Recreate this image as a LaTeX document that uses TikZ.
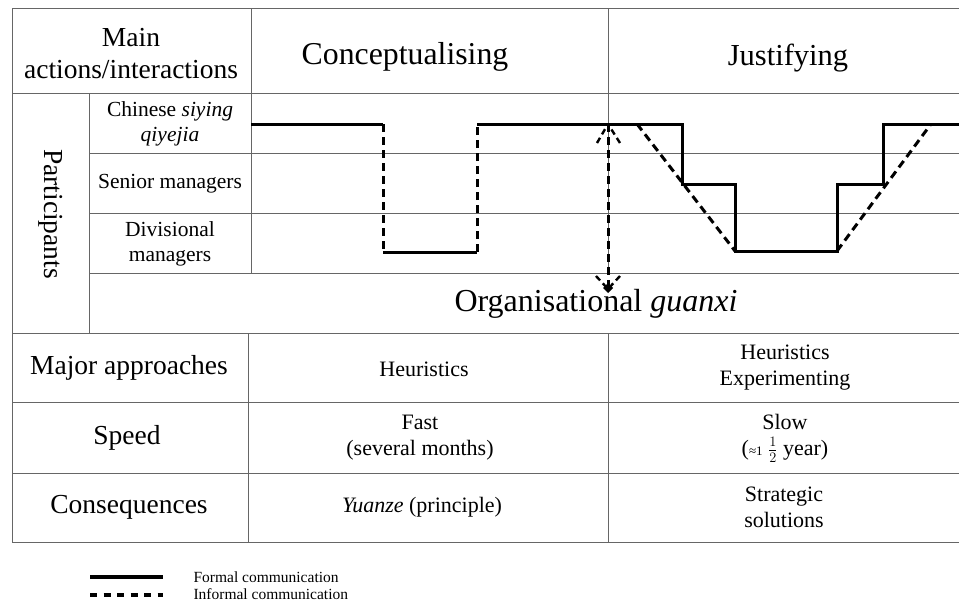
\documentclass[tikz,border=0pt]{standalone}
\usepackage{fontspec}
\setmainfont{Liberation Serif}
\begin{document}
\begin{tikzpicture}[x=1pt,y=-1pt,
  grid/.style={draw=black!60,line width=0.8pt},
  formal/.style={draw=black,line width=3pt,line join=miter},
  informal/.style={draw=black,line width=3pt,dash pattern=on 8pt off 5pt},
  barb/.style={draw=black,line width=2.4pt,dash pattern=on 6pt off 4pt},
  big/.style={font=\fontsize{32}{38}\selectfont},
  lab/.style={font=\fontsize{27.5}{32}\selectfont,align=center},
  small/.style={font=\fontsize{22}{26}\selectfont,align=center},
  legend/.style={font=\fontsize{15.5}{17}\selectfont,anchor=west}]
\useasboundingbox (0,0) rectangle (959,603);

% table grid
\draw[grid] (12,8) -- (959,8);
\draw[grid] (12,93) -- (959,93);
\draw[grid] (89,153) -- (959,153);
\draw[grid] (89,213) -- (959,213);
\draw[grid] (89,273) -- (959,273);
\draw[grid] (12,333) -- (959,333);
\draw[grid] (12,402) -- (959,402);
\draw[grid] (12,473) -- (959,473);
\draw[grid] (12,542) -- (959,542);
\draw[grid] (12,8) -- (12,542);
\draw[grid] (89,93) -- (89,333);
\draw[grid] (251,8) -- (251,273);
\draw[grid] (248,333) -- (248,542);
\draw[grid] (608,8) -- (608,273);
\draw[grid] (608,333) -- (608,542);

% header row
\node[lab] (hmain) at (131,54) {Main\\actions/interactions};
\node[big,font=\fontsize{31.8}{38}\selectfont] (hcon) at (405,57) {Conceptualising};
\node[big,font=\fontsize{30.5}{36}\selectfont] (hjus) at (788,58) {Justifying};

% participants
\node[lab,rotate=-90] (part) at (51,214) {Participants};
\node[small,font=\fontsize{21.5}{25}\selectfont] (pceo) at (170,124) {Chinese \textit{siying}\\\textit{qiyejia}};
\node[small,font=\fontsize{21.5}{25}\selectfont] (psen) at (170,184) {Senior managers};
\node[small,font=\fontsize{21.5}{25}\selectfont] (pdiv) at (170,244) {Divisional\\managers};
\node[big] (guanxi) at (596,304) {Organisational \textit{guanxi}};

% lower rows
\node[lab] (rapp) at (129,368) {Major approaches};
\node[lab] (rspd) at (127,438) {Speed};
\node[lab] (rcon) at (129,507) {Consequences};
\node[small] (capp) at (424,369) {Heuristics};
\node[small] (japp) at (785,368) {Heuristics\\Experimenting};
\node[small] (cspd) at (420,438) {Fast\\(several months)};
\node[small] (jspd) at (785,438) {Slow\\({\fontsize{13}{13}\selectfont ≈1} $\frac{1}{2}$ year)};
\node[small] (ccon) at (422,507) {\textit{Yuanze} (principle)};
\node[small] (jcon) at (784,507) {Strategic\\solutions};

% communication paths
\coordinate (a0) at (251,124);
\coordinate (a1) at (383,124);
\coordinate (a2) at (383,252);
\coordinate (a3) at (477,252);
\coordinate (a4) at (477,124);
\coordinate (b1) at (682,124);
\coordinate (b2) at (682,184);
\coordinate (b3) at (735,184);
\coordinate (b4) at (735,251);
\coordinate (b5) at (837,251);
\coordinate (b6) at (837,184);
\coordinate (b7) at (883,184);
\coordinate (b8) at (883,124);
\coordinate (b9) at (959,124);
\coordinate (v0) at (637,124);
\coordinate (v1) at (931,124);

\draw[formal] (a0) -- (a1);
\draw[informal] (a1) -- (a2);
\draw[formal] (a2) -- (a3);
\draw[informal] (a3) -- (a4);
\draw[formal] (a4) -- (b1) -- (b2) -- (b3) -- (b4) -- (b5) -- (b6) -- (b7) -- (b8) -- (b9);
\draw[informal] (v0) -- (b4);
\draw[informal] (b5) -- (v1);

% two-way link to organisational guanxi
\coordinate (t0) at (608,124);
\coordinate (t1) at (608,289);
\coordinate (tl) at (597,143);
\coordinate (tr) at (620,143);
\coordinate (bl) at (596,276);
\coordinate (br) at (620,276);
\draw[informal] (t0) -- (t1);
\draw[barb] (tl) -- (t0);
\draw[barb] (tr) -- (t0);
\draw[barb] (bl) -- (t1);
\draw[barb] (br) -- (t1);
\fill[black] (608,283) -- (613,288) -- (608,293) -- (603,288) -- cycle;

% legend
\coordinate (l1a) at (90,577);
\coordinate (l1b) at (163,577);
\coordinate (l2a) at (90,595);
\coordinate (l2b) at (163,595);
\draw[formal,line width=3.2pt] (l1a) -- (l1b);
\draw[black,line width=3.2pt,dash pattern=on 7pt off 6.5pt] (l2a) -- (l2b);
\node[legend] (lf) at (190,577) {Formal communication};
\node[legend] (li) at (190,594) {Informal communication};
\end{tikzpicture}
\end{document}
